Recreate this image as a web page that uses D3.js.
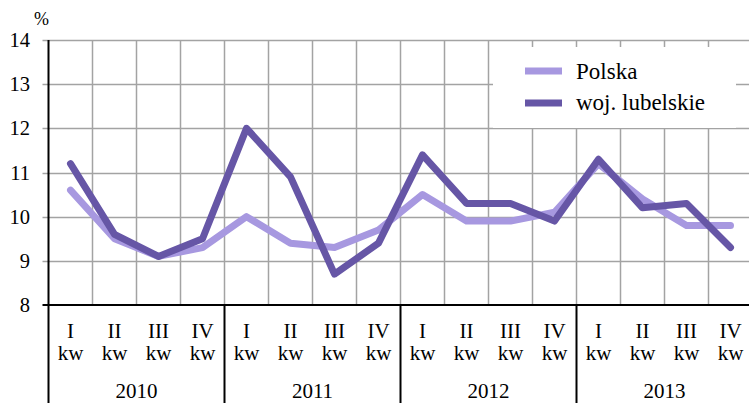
<!DOCTYPE html>
<html><head><meta charset="utf-8">
<script src="https://cdn.jsdelivr.net/npm/d3@7"></script>
<style>body{margin:0;background:#fff}svg{display:block}</style>
</head><body><div id="chart"></div>
<script>
const years = ["2010","2011","2012","2013"];
const quarters = ["I","II","III","IV"];
const quarterSuffix = "kw";
const polska = [10.6, 9.5, 9.1, 9.3, 10.0, 9.4, 9.3, 9.7, 10.5, 9.9, 9.9, 10.1, 11.2, 10.4, 9.8, 9.8];
const lubelskie = [11.2, 9.6, 9.1, 9.5, 12.0, 10.9, 8.7, 9.4, 11.4, 10.3, 10.3, 9.9, 11.3, 10.2, 10.3, 9.3];
const yTicks = [8, 9, 10, 11, 12, 13, 14];
const seriesNames = ["Polska", "woj. lubelskie"];
const colors = ["#a798e0", "#6656a6"];

(function () {
const W = 749, H = 403;
const FONT = "'Liberation Serif', 'Times New Roman', Tinos, serif";
const svg = d3.select("#chart").append("svg").attr("width", W).attr("height", H)
  .style("font-family", FONT);
const mLeft = 48.5, mTop = 40, mBottom = 305;
const cats = [];
years.forEach(yr => quarters.forEach(q => cats.push(yr + "-" + q)));
const x = d3.scaleBand().domain(cats).range([mLeft, mLeft + 16 * 44]).paddingInner(0).paddingOuter(0);
const y = d3.scaleLinear().domain([8, 14]).range([mBottom, mTop]);

const grid = "#a3a3a3";
svg.append("g").selectAll("line").data(yTicks.filter(t => t > 8)).join("line")
  .attr("x1", mLeft - 6).attr("x2", W + 10)
  .attr("y1", d => Math.round(y(d)) + 0.5).attr("y2", d => Math.round(y(d)) + 0.5)
  .attr("stroke", grid).attr("stroke-width", 1.5);
svg.append("g").selectAll("line").data(cats.slice(1)).join("line")
  .attr("x1", d => x(d)).attr("x2", d => x(d))
  .attr("y1", mTop).attr("y2", mBottom)
  .attr("stroke", grid).attr("stroke-width", 1.5);

svg.append("g").selectAll("text").data(yTicks).join("text")
  .attr("font-family", FONT)
  .attr("x", 30).attr("y", d => y(d) + 7)
  .attr("text-anchor", "end").attr("font-size", 20.5).text(d => d);
svg.append("text").attr("font-family", FONT).attr("x", 34).attr("y", 25).attr("font-size", 18).text("%");

const lg = svg.append("g");
lg.append("rect").attr("x", 493).attr("y", 47).attr("width", 243).attr("height", 81).attr("fill", "#fff");
seriesNames.forEach((n, i) => {
  const yy = 71 + i * 32;
  lg.append("line").attr("x1", 525).attr("x2", 562).attr("y1", yy).attr("y2", yy)
    .attr("stroke", colors[i]).attr("stroke-width", 7);
  lg.append("text").attr("font-family", FONT).attr("x", 576).attr("y", 79 + i * 31).attr("font-size", 23).text(n);
});

const line = d3.line().x((d, i) => x(cats[i]) + x.bandwidth() / 2).y(d => y(d));
[polska, lubelskie].forEach((s, i) => {
  svg.append("path").datum(s).attr("d", line).attr("fill", "none")
    .attr("stroke", colors[i]).attr("stroke-width", 7)
    .attr("stroke-linejoin", "round").attr("stroke-linecap", "round");
});

svg.append("line").attr("x1", mLeft - 6).attr("x2", W + 10).attr("y1", mBottom).attr("y2", mBottom)
  .attr("stroke", "#000").attr("stroke-width", 2);
svg.append("line").attr("x1", mLeft).attr("x2", mLeft).attr("y1", mTop).attr("y2", H)
  .attr("stroke", "#000").attr("stroke-width", 2);
years.slice(1).forEach(yr => {
  const xx = x(yr + "-I");
  svg.append("line").attr("x1", xx).attr("x2", xx).attr("y1", mBottom).attr("y2", H)
    .attr("stroke", "#000").attr("stroke-width", 2);
});

const xl = svg.append("g");
cats.forEach((c, i) => {
  const cx = x(c) + x.bandwidth() / 2;
  xl.append("text").attr("font-family", FONT).attr("x", cx).attr("y", 338).attr("text-anchor", "middle").attr("font-size", 21).text(quarters[i % 4]);
  xl.append("text").attr("font-family", FONT).attr("x", cx).attr("y", 360).attr("text-anchor", "middle").attr("font-size", 21).text(quarterSuffix);
});
years.forEach(yr => {
  const cx = x(yr + "-I") + 2 * x.bandwidth();
  xl.append("text").attr("font-family", FONT).attr("x", cx).attr("y", 398).attr("text-anchor", "middle").attr("font-size", 21).text(yr);
});
})();
</script></body></html>
